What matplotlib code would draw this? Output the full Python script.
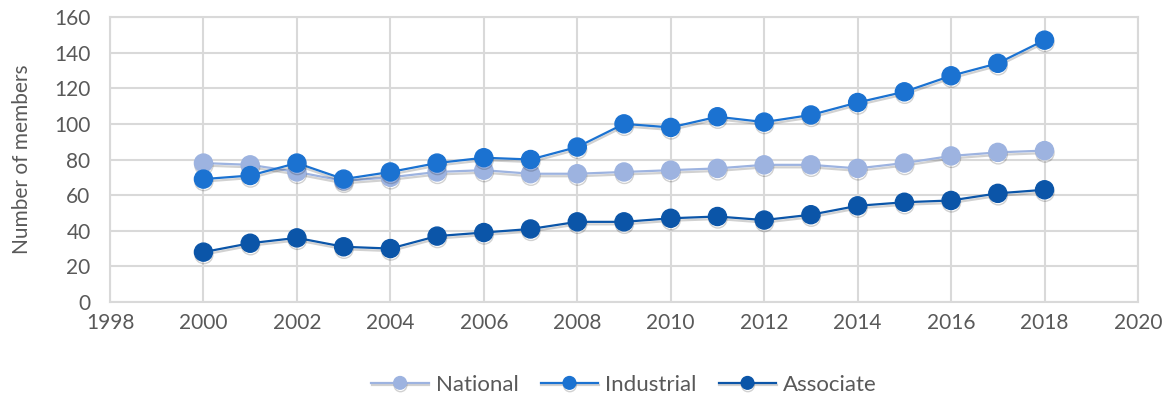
import matplotlib
matplotlib.use("Agg")
import matplotlib.pyplot as plt
import matplotlib.patheffects as pe

years = list(range(2000, 2019))
national = [78, 77, 73, 68, 70, 73, 74, 72, 72, 73, 74, 75, 77, 77, 75, 78, 82, 84, 85]
industrial = [69, 71, 78, 69, 73, 78, 81, 80, 87, 100, 98, 104, 101, 105, 112, 118, 127, 134, 147]
associate = [28, 33, 36, 31, 30, 37, 39, 41, 45, 45, 47, 48, 46, 49, 54, 56, 57, 61, 63]

series = [("National", national, "#9db3e0"),
          ("Industrial", industrial, "#1b72d1"),
          ("Associate", associate, "#0b55a8")]

plt.rcParams["font.family"] = ["Lato", "DejaVu Sans"]
grey = "#595959"

fig = plt.figure(figsize=(11.71, 4.03), dpi=100)
ax = fig.add_axes([110 / 1171, 1 - 302 / 403, 1028 / 1171, 285 / 403])

shadow = [pe.SimpleLineShadow(offset=(0.3, -1.8), shadow_color="black", alpha=0.18),
          pe.Normal()]
for name, vals, color in series:
    ax.plot(years, vals, color=color, lw=1.6, marker="o", markersize=13,
            markeredgecolor=color, label=name, path_effects=shadow, zorder=3)

ax.set_xlim(1998, 2020)
ax.set_ylim(0, 160)
ax.set_xticks(range(1998, 2021, 2))
ax.set_yticks(range(0, 161, 20))
ax.grid(True, color="#d9d9d9", lw=1.5)
ax.set_axisbelow(True)
for s in ax.spines.values():
    s.set_color("#d9d9d9")
    s.set_linewidth(1.5)
ax.tick_params(length=0, labelsize=15, colors=grey, pad=8)
ax.tick_params(axis="y", pad=14)
ax.set_ylabel("Number of members", fontsize=15, color=grey, labelpad=16)

leg = ax.legend(loc="center", bbox_to_anchor=(0.5, -0.29), ncol=3, frameon=False,
                fontsize=16, handlelength=2.6, markerscale=0.7, columnspacing=1.0,
                handletextpad=0.3)
for t in leg.get_texts():
    t.set_color(grey)

fig.savefig("out.png", dpi=100)
